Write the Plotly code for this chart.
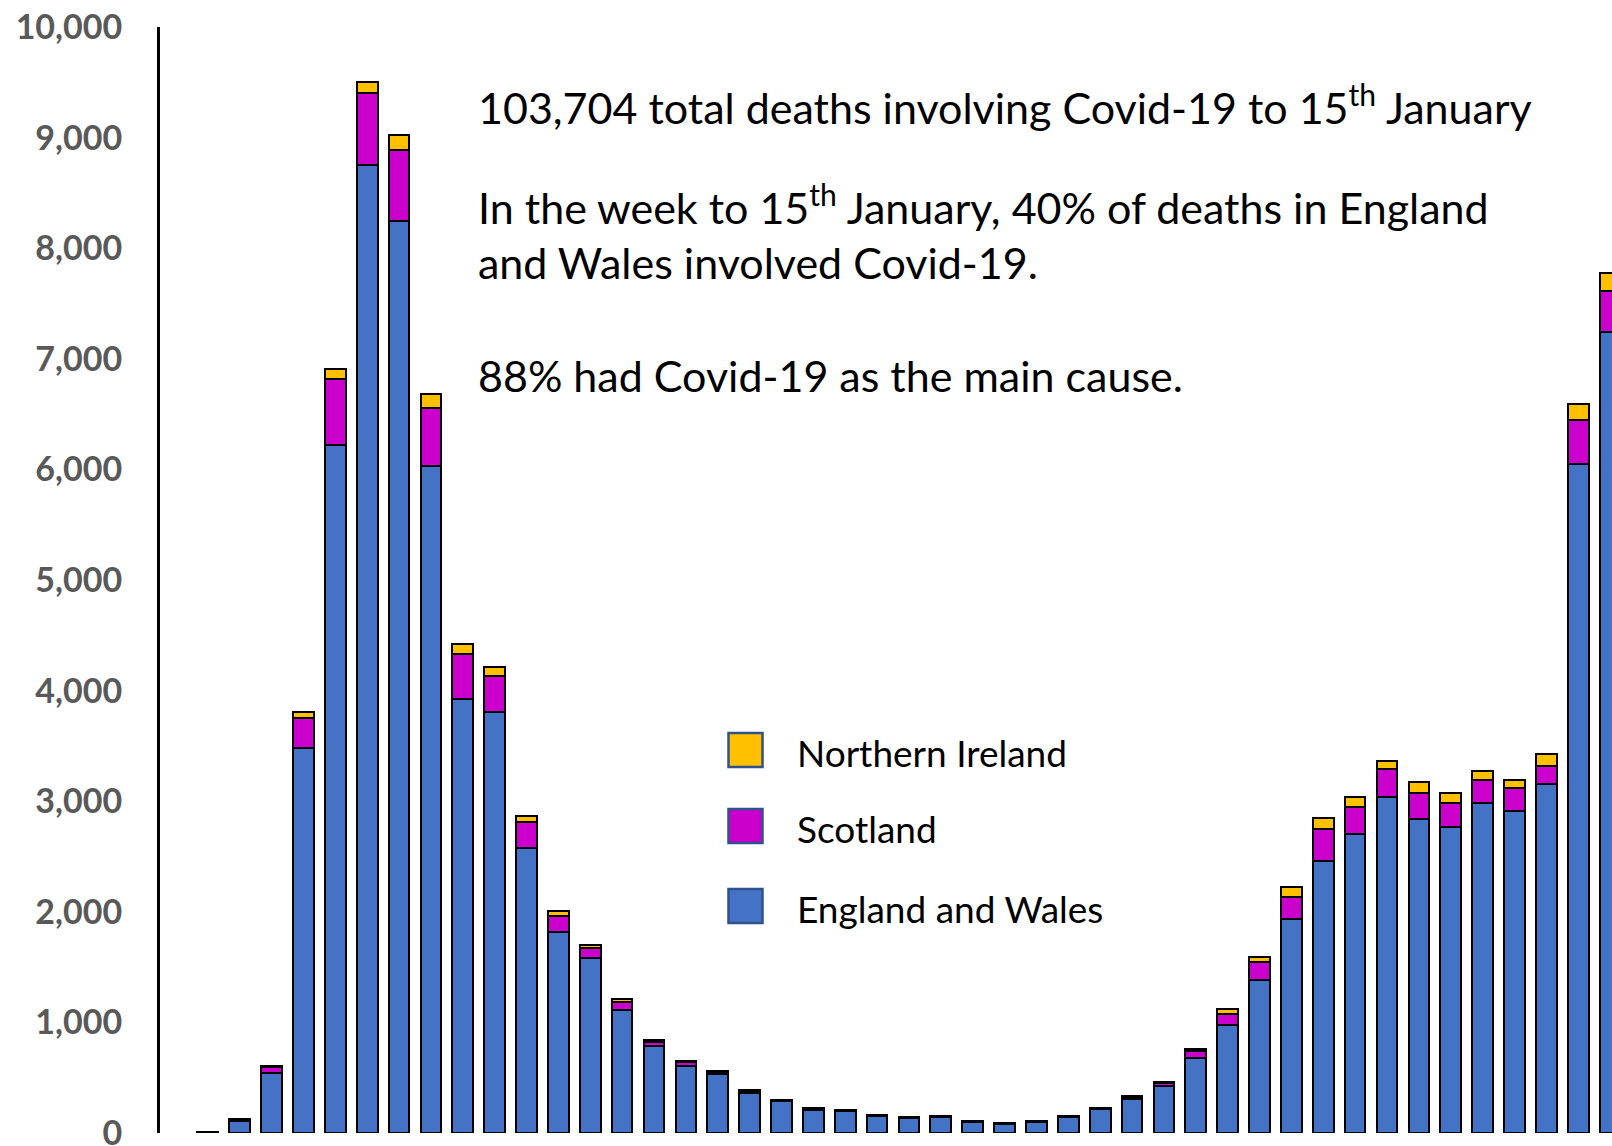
import plotly.graph_objects as go

# ---- data (weekly deaths involving Covid-19) ----
weeks = list(range(45))
england_wales = [5, 105, 540, 3478, 6219, 8756, 8244, 6035, 3920, 3807,
                 2580, 1820, 1580, 1110, 785, 610, 530, 365, 285, 212,
                 195, 153, 133, 141, 104, 81, 98, 141, 213, 310,
                 423, 675, 975, 1379, 1936, 2463, 2701, 3041, 2839, 2764,
                 2987, 2914, 3153, 6052, 7241]
scotland = [0, 15, 55, 271, 595, 648, 645, 520, 415, 325,
            233, 140, 95, 75, 42, 30, 25, 18, 12, 10,
            9, 7, 6, 6, 5, 4, 5, 6, 9, 15,
            30, 62, 105, 171, 201, 286, 244, 247, 232, 223,
            202, 202, 168, 392, 371]
northern_ireland = [0, 5, 12, 54, 90, 102, 135, 130, 85, 83,
                    56, 45, 25, 25, 12, 8, 6, 5, 4, 4,
                    3, 3, 2, 3, 2, 2, 2, 3, 4, 6,
                    10, 20, 40, 45, 91, 102, 96, 78, 103, 90,
                    81, 78, 106, 150, 162]

series_names = ["England and Wales", "Scotland", "Northern Ireland"]
series_colors = ["#4472C4", "#CC00CC", "#FFC000"]
y_ticks = list(range(0, 10001, 1000))

text_lines = [
    "103,704 total deaths involving Covid-19 to 15<sup>th</sup> January",
    "In the week to 15<sup>th</sup> January, 40% of deaths in England",
    "and Wales involved Covid-19.",
    "88% had Covid-19 as the main cause.",
]

# ---- layout geometry (pixels) ----
W, H = 1612, 1146
ML, MR, MT, MB = 160, 0, 27, 13
PW, PH = W - ML - MR, H - MT - MB


def px(x):
    return (x - ML) / PW


def py(y):
    return (H - MB - y) / PH


fig = go.Figure()
for name, vals, col in zip(series_names, [england_wales, scotland, northern_ireland], series_colors):
    fig.add_trace(go.Bar(
        x=weeks, y=vals, name=name, width=0.65,
        marker=dict(color=col, line=dict(color="black", width=2)),
        showlegend=False,
    ))

annotations = []
text_y = [105, 204, 262, 375]
for t, yy in zip(text_lines, text_y):
    annotations.append(dict(
        text=t, x=px(476), y=py(yy), xref="paper", yref="paper",
        xanchor="left", yanchor="middle", showarrow=False,
        font=dict(family="Lato", size=43, color="black"),
    ))

# manual legend (top to bottom: Northern Ireland, Scotland, England and Wales)
shapes = []
leg_y = [750, 826, 906]
leg_text_y = [752, 828.5, 908]
for name, col, sy, ty in zip(series_names[::-1], series_colors[::-1], leg_y, leg_text_y):
    shapes.append(dict(
        type="rect", xref="paper", yref="paper",
        x0=px(728.5), x1=px(762.5), y0=py(sy + 17), y1=py(sy - 17),
        fillcolor=col, line=dict(color="#2F528F", width=2.5),
    ))
    annotations.append(dict(
        text=name, x=px(795), y=py(ty), xref="paper", yref="paper",
        xanchor="left", yanchor="middle", showarrow=False,
        font=dict(family="Lato", size=37, color="black"),
    ))

fig.update_layout(
    barmode="stack",
    width=W, height=H,
    margin=dict(l=ML, r=MR, t=MT, b=MB, pad=0, autoexpand=False),
    paper_bgcolor="white", plot_bgcolor="white",
    xaxis=dict(range=[-1.5, 44.06], visible=False, automargin=False),
    yaxis=dict(
        range=[0, 10000], tickvals=y_ticks, tickformat=",d",
        showgrid=False, zeroline=False, automargin=False,
        showline=True, linecolor="black", linewidth=3,
        ticks="outside", ticklen=28, tickcolor="rgba(0,0,0,0)",
        ticklabeloverflow="allow",
        tickfont=dict(family="Lato", size=34, color="#595959", weight="bold"),
    ),
    annotations=annotations,
    shapes=shapes,
)

fig.write_html("out.html", config={"displayModeBar": False},
               post_script="document.body.style.margin='0';document.body.style.overflow='hidden';")
